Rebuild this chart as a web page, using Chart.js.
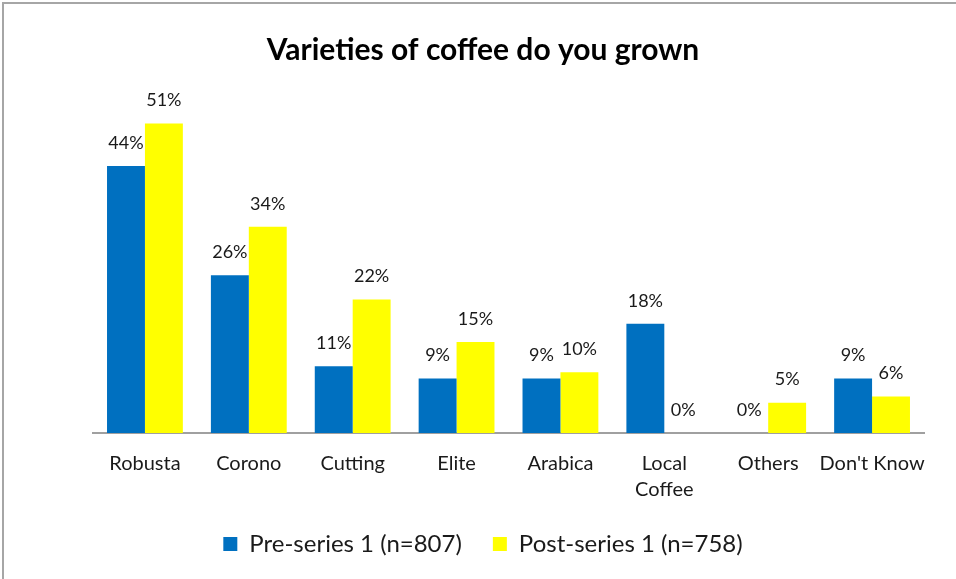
<!DOCTYPE html>
<html>
<head>
<meta charset="utf-8">
<script src="https://cdn.jsdelivr.net/npm/chart.js@4.4.1/dist/chart.umd.min.js"></script>
<style>
  body { margin: 0; background: #fff; }
  #wrap { position: relative; width: 956px; height: 579px; overflow: hidden; }
  #frame { position: absolute; left: 2px; top: 2px; width: 980px; height: 600px; border: 2px solid #a6a6a6; box-sizing: border-box; }
  canvas { position: absolute; left: 0; top: 0; }
</style>
</head>
<body>
<div id="wrap">
  <div id="frame"></div>
  <canvas id="coffeeChart" width="956" height="579"></canvas>
</div>
<script>
const categories = ["Robusta", "Corono", "Cutting", "Elite", "Arabica", ["Local", "Coffee"], "Others", "Don't Know"];
const preSeries = [44, 26, 11, 9, 9, 18, 0, 9];
const postSeries = [51, 34, 22, 15, 10, 0, 5, 6];
const seriesNames = ["Pre-series 1 (n=807)", "Post-series 1 (n=758)"];

const FONT = "Lato, 'Open Sans', sans-serif";

// percentage labels above every bar
const barLabels = {
  id: "barLabels",
  afterDatasetsDraw(chart) {
    const ctx = chart.ctx;
    ctx.save();
    ctx.font = "18px " + FONT;
    ctx.fillStyle = "#1a1a1a";
    ctx.textAlign = "center";
    ctx.textBaseline = "middle";
    chart.data.datasets.forEach((ds, i) => {
      chart.getDatasetMeta(i).data.forEach((bar, j) => {
        ctx.fillText(ds.data[j] + "%", bar.x, bar.y - 23);
      });
    });
    ctx.restore();
  }
};

new Chart(document.getElementById("coffeeChart"), {
  type: "bar",
  data: {
    labels: categories,
    datasets: [
      { label: seriesNames[0], data: preSeries, backgroundColor: "#0070C0" },
      { label: seriesNames[1], data: postSeries, backgroundColor: "#FFFF00" }
    ]
  },
  options: {
    responsive: false,
    animation: false,
    datasets: { bar: { categoryPercentage: 0.73, barPercentage: 1.0 } },
    layout: { padding: { left: 42, right: 32, top: 0, bottom: 13 } },
    scales: {
      x: {
        grid: { display: false },
        border: { display: true, color: "#a0a0a0", width: 2 },
        ticks: {
          color: "#1a1a1a",
          font: { family: FONT, size: 20, lineHeight: 1.3 },
          padding: 10,
          maxRotation: 0,
          autoSkip: false
        },
        afterFit(scale) { scale.height = 68; }
      },
      y: {
        min: 0,
        max: 60,
        grid: { display: false },
        border: { display: false },
        ticks: { display: false },
        // empty gutter on the left, no visible axis
        afterFit(scale) { scale.width = 51; }
      }
    },
    plugins: {
      title: {
        display: true,
        text: "Varieties of coffee do you grown",
        color: "#000",
        font: { family: FONT, size: 30, weight: "bold" },
        padding: { top: 32, bottom: 1 }
      },
      legend: {
        position: "bottom",
        labels: {
          color: "#1a1a1a",
          font: { family: FONT, size: 24 },
          boxWidth: 14,
          boxHeight: 14,
          padding: 31
        }
      },
      tooltip: { enabled: false }
    }
  },
  plugins: [barLabels]
});
</script>
</body>
</html>
